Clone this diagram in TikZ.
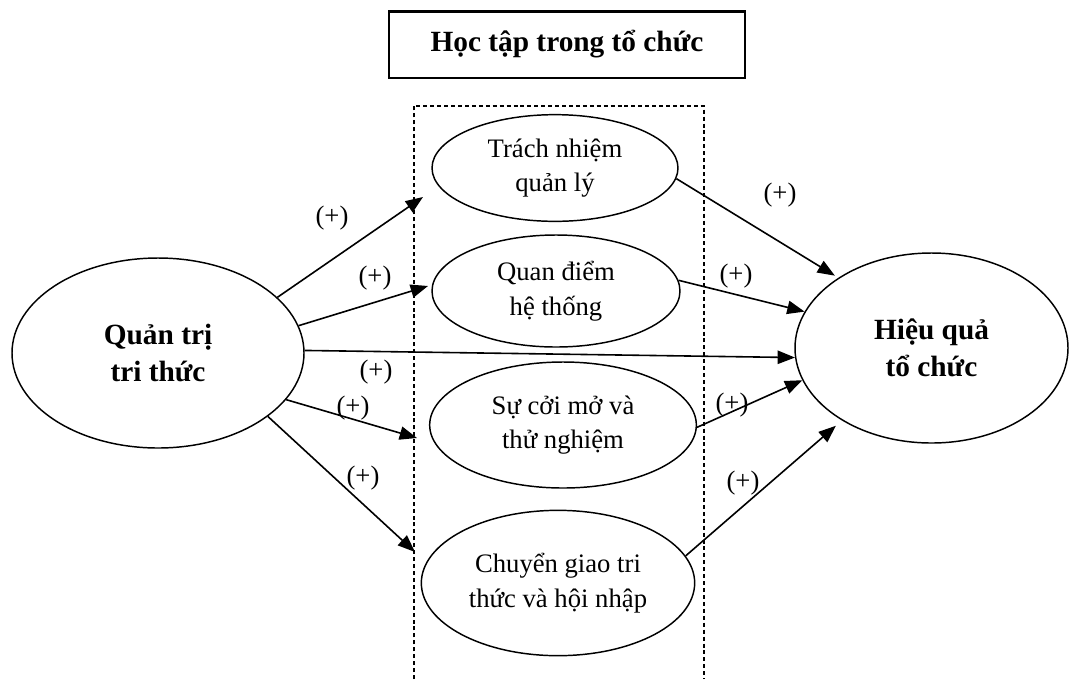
\documentclass[tikz,border=0pt]{standalone}
\usepackage{fontspec}
\setmainfont{Liberation Serif}
\usetikzlibrary{arrows.meta, shapes.geometric}
\tikzset{
  oval/.style      = {ellipse, draw, line width=1.1pt, inner sep=0pt, align=center,
                      font=\fontsize{20}{26}\selectfont},
  mainoval/.style  = {oval, font=\fontsize{22}{28}\selectfont\bfseries},
  link/.style      = {-{Triangle[length=13pt,width=10pt]}, line width=1.2pt},
  plus/.style      = {font=\fontsize{20}{24}\selectfont},
  groupbox/.style  = {dash pattern=on 3pt off 2.2pt, line width=1.1pt},
  titlebox/.style  = {draw, line width=2pt, minimum width=267pt, minimum height=50pt,
                      font=\fontsize{22}{26}\selectfont\bfseries},
}

\begin{document}
\begin{tikzpicture}[x=0.75pt,y=-0.75pt]
  \useasboundingbox (0,0) rectangle (1073,679);
  % heading of the mediating block
  \node[titlebox] (title) at (567,44.5) {Học tập trong tổ chức};
  % dashed frame round the learning dimensions, open at the bottom
  \draw[groupbox] (414,679) -- (414,106) -- (704,106) -- (704,679);
  % independent and dependent constructs
  \node[mainoval, minimum width=219pt, minimum height=142.5pt] (qt) at (158,353) {Quản trị\\tri thức};
  \node[mainoval, minimum width=204.75pt, minimum height=142.5pt] (hq) at (931.5,348) {Hiệu quả\\tổ chức};
  % learning dimensions
  \node[oval, minimum width=184.5pt, minimum height=80pt] (tn) at (555,168) {Trách nhiệm\\quản lý};
  \node[oval, minimum width=186pt, minimum height=84pt] (qd) at (556,291) {Quan điểm\\hệ thống};
  \node[oval, minimum width=200pt, minimum height=94.5pt] (cm) at (563,425) {Sự cởi mở và\\thử nghiệm};
  \node[oval, minimum width=205pt, minimum height=109pt] (cg) at (558,583) {Chuyển giao tri\\thức và hội nhập};
  % arrows into the block stop at the frame
  \coordinate (tnin) at (423,197);
  \coordinate (qdin) at (428,286);
  \coordinate (cmin) at (417,438);
  \coordinate (cgin) at (415,552);
  \draw[link] (qt.25) -- (tnin);
  \draw[link] (qt.11) -- (qdin);
  \draw[link] (qt.1) -- (hq.184);
  \draw[link] (qt.-20) -- (cmin);
  \draw[link] (qt.-30) -- (cgin);
  % arrows out of the block
  \draw[link, shorten >=3pt] (tn.-5) -- (hq.143);
  \draw[link] (qd.5) -- (hq.164);
  \draw[link] (cm.-1) -- (hq.194);
  \draw[link, shorten >=6pt] (cg.12) -- (hq.219);
  % signs
  \node[plus] (p1) at (332,218) {(+)};
  \node[plus] (p2) at (375,278) {(+)};
  \node[plus] (p3) at (376,372) {(+)};
  \node[plus] (p4) at (353,408) {(+)};
  \node[plus] (p5) at (363,478) {(+)};
  \node[plus] (p6) at (780,195) {(+)};
  \node[plus] (p7) at (736,276) {(+)};
  \node[plus] (p8) at (732,405) {(+)};
  \node[plus] (p9) at (743,483) {(+)};
\end{tikzpicture}
\end{document}
